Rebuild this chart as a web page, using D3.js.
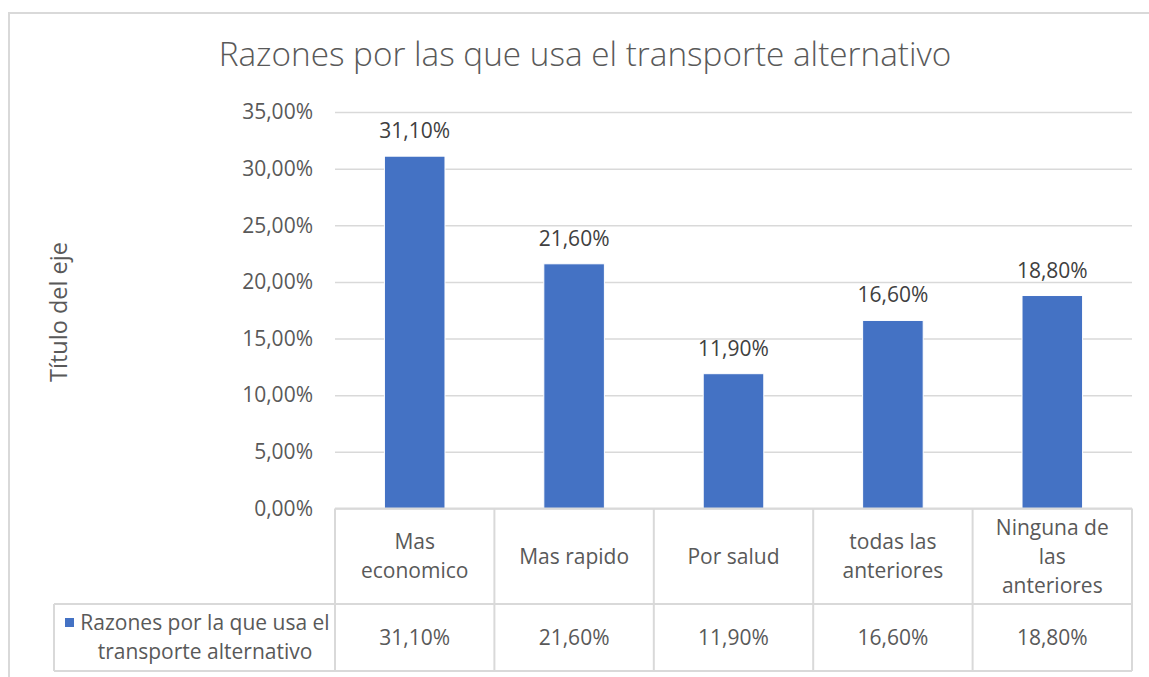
<!DOCTYPE html>
<html>
<head>
<meta charset="utf-8">
<title>Razones por las que usa el transporte alternativo</title>
<script src="https://d3js.org/d3.v7.min.js"></script>
<style>
  body { margin: 0; background: #fff; }
  text { font-family: "Open Sans", sans-serif; }
</style>
</head>
<body>
<div id="chart"></div>
<script>
// data
var categories = ["Mas\neconomico", "Mas rapido", "Por salud", "todas las\nanteriores", "Ninguna de\nlas\nanteriores"];
var values = [31.1, 21.6, 11.9, 16.6, 18.8];
var seriesName = ["Razones por la que usa el", "transporte alternativo"];
var yTicks = [0, 5, 10, 15, 20, 25, 30, 35];

var W = 1149, H = 677;
var plot = {left: 335, right: 1132, top: 112, bottom: 508.5};
var grey = "#d9d9d9", textGrey = "#595959";
var fs = "21px";

var fmt = function (v) { return v.toFixed(2).replace(".", ",") + "%"; };

var svg = d3.select("#chart").append("svg")
  .attr("width", W).attr("height", H);

// outer chart frame (runs off the right/bottom like the screenshot)
svg.append("rect")
  .attr("x", 9).attr("y", 13).attr("width", W + 20).attr("height", H + 20)
  .attr("fill", "#fff").attr("stroke", grey).attr("stroke-width", 2);

// title
svg.append("text")
  .attr("x", 585).attr("y", 66)
  .attr("text-anchor", "middle")
  .style("font-size", "33.3px").style("font-weight", 300)
  .attr("fill", textGrey)
  .text("Razones por las que usa el transporte alternativo");

// scales
var y = d3.scaleLinear().domain([0, 35]).range([plot.bottom, plot.top]);
var cell = d3.scaleBand().domain(categories).range([plot.left, plot.right]);
var x = d3.scaleBand().domain(categories).range([plot.left, plot.right])
  .paddingInner(0.62).paddingOuter(0.31);

// gridlines + tick labels
var yAxis = svg.append("g")
  .attr("transform", "translate(" + plot.left + ",0)")
  .call(d3.axisLeft(y).tickValues(yTicks).tickFormat(fmt)
    .tickSize(-(plot.right - plot.left)).tickPadding(22));
yAxis.select(".domain").remove();
yAxis.selectAll(".tick line").attr("stroke", grey).attr("stroke-width", 1.5);
yAxis.selectAll(".tick text")
  .attr("fill", textGrey).style("font-size", fs)
  .style("font-family", "'Open Sans', sans-serif");

// axis title
svg.append("text")
  .attr("transform", "translate(67,312) rotate(-90)")
  .attr("text-anchor", "middle")
  .style("font-size", "23.5px").attr("fill", textGrey)
  .text("Título del eje");

// bars
svg.append("g").selectAll("rect")
  .data(values)
  .join("rect")
    .attr("x", function (d, i) { return x(categories[i]); })
    .attr("y", function (d) { return y(d); })
    .attr("width", x.bandwidth())
    .attr("height", function (d) { return y(0) - y(d); })
    .attr("fill", "#4472c4")
    .attr("stroke", "#fff").attr("stroke-width", 1);

// data labels
svg.append("g").selectAll("text")
  .data(values)
  .join("text")
    .attr("x", function (d, i) { return x(categories[i]) + x.bandwidth() / 2; })
    .attr("y", function (d) { return y(d) - 18; })
    .attr("text-anchor", "middle")
    .style("font-size", fs).attr("fill", "#404040")
    .text(fmt);

// data table
var row1 = plot.bottom, row2 = 604, row3 = 671, legendLeft = 54;
var table = svg.append("g").attr("stroke", grey).attr("stroke-width", 2);
table.append("line").attr("x1", plot.left).attr("x2", plot.right).attr("y1", row1).attr("y2", row1);
table.append("line").attr("x1", legendLeft).attr("x2", plot.right).attr("y1", row2).attr("y2", row2);
table.append("line").attr("x1", legendLeft).attr("x2", plot.right).attr("y1", row3).attr("y2", row3);
table.append("line").attr("x1", legendLeft).attr("x2", legendLeft).attr("y1", row2).attr("y2", row3);
table.selectAll(".vline")
  .data(categories.concat([null]))
  .join("line")
    .attr("x1", function (d) { return d === null ? plot.right : cell(d); })
    .attr("x2", function (d) { return d === null ? plot.right : cell(d); })
    .attr("y1", row1).attr("y2", row3);

// category labels
var lineH = 29;
svg.append("g").selectAll("text")
  .data(categories)
  .join("text")
    .attr("text-anchor", "middle")
    .style("font-size", fs).attr("fill", textGrey)
    .each(function (d) {
      var lines = d.split("\n");
      var cx = cell(d) + cell.bandwidth() / 2;
      var y0 = (row1 + row2) / 2 - (lines.length - 1) * lineH / 2;
      d3.select(this).selectAll("tspan")
        .data(lines)
        .join("tspan")
          .attr("x", cx)
          .attr("y", function (l, i) { return y0 + i * lineH; })
          .attr("dy", "0.35em")
          .text(function (l) { return l; });
    });

// value row
svg.append("g").selectAll("text")
  .data(values)
  .join("text")
    .attr("x", function (d, i) { return cell(categories[i]) + cell.bandwidth() / 2; })
    .attr("y", (row2 + row3) / 2)
    .attr("dy", "0.35em")
    .attr("text-anchor", "middle")
    .style("font-size", fs).attr("fill", textGrey)
    .text(fmt);

// legend cell
svg.append("rect")
  .attr("x", 65).attr("y", 618).attr("width", 9).attr("height", 9)
  .attr("fill", "#4472c4");
svg.append("g").selectAll("text")
  .data(seriesName)
  .join("text")
    .attr("x", 205)
    .attr("y", function (d, i) { return 623 + i * 28.6; })
    .attr("dy", "0.35em")
    .attr("text-anchor", "middle")
    .style("font-size", fs).attr("fill", textGrey)
    .text(function (d) { return d; });
</script>
</body>
</html>
